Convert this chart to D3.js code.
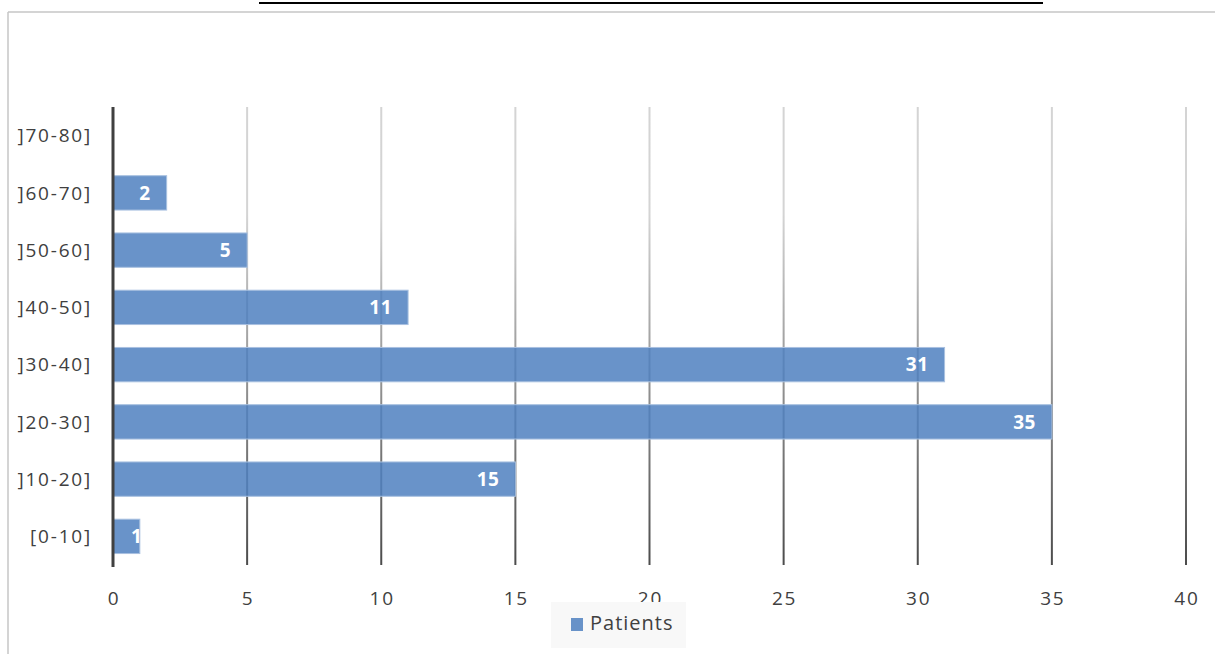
<!DOCTYPE html>
<html>
<head>
<meta charset="utf-8">
<script src="https://cdn.jsdelivr.net/npm/d3@7"></script>
<style>
  body { margin: 0; background: #fff; }
  svg { display: block; font-family: "Open Sans", "Noto Sans", sans-serif; }
</style>
</head>
<body>
<div id="chart"></div>
<script>
const categories = ["[0-10]", "]10-20]", "]20-30]", "]30-40]", "]40-50]", "]50-60]", "]60-70]", "]70-80]"];
const patients = [1, 15, 35, 31, 11, 5, 2, 0];
const xTicks = [0, 5, 10, 15, 20, 25, 30, 35, 40];
const seriesName = "Patients";

const W = 1215, H = 654;
const margin = { top: 107, right: 30, bottom: 89, left: 113 };
const width = 1186 - margin.left;
const height = 565 - margin.top;

const svg = d3.select("#chart").append("svg")
    .attr("width", W)
    .attr("height", H);

// outer frame of the chart area
svg.append("line").attr("x1", 8).attr("x2", W).attr("y1", 12).attr("y2", 12)
    .attr("stroke", "#c6c6c6").attr("stroke-width", 1.5);
svg.append("line").attr("x1", 8).attr("x2", 8).attr("y1", 12).attr("y2", H)
    .attr("stroke", "#c6c6c6").attr("stroke-width", 1.5);

// underline of the (cropped) title
svg.append("line").attr("x1", 259).attr("x2", 1043).attr("y1", 3).attr("y2", 3)
    .attr("stroke", "#000").attr("stroke-width", 2);

const defs = svg.append("defs");
const grad = defs.append("linearGradient")
    .attr("id", "gridGrad")
    .attr("gradientUnits", "userSpaceOnUse")
    .attr("x1", 0).attr("x2", 0)
    .attr("y1", margin.top).attr("y2", margin.top + height);
grad.append("stop").attr("offset", "0%").attr("stop-color", "#d4d4d4");
grad.append("stop").attr("offset", "100%").attr("stop-color", "#222");

const g = svg.append("g").attr("transform", `translate(${margin.left},${margin.top})`);

const x = d3.scaleLinear().domain([0, 40]).range([0, width]);
const y = d3.scaleBand().domain(categories.slice().reverse()).range([0, height])
    .paddingInner(0.4).paddingOuter(0.2);

// vertical gridlines
g.selectAll(".grid")
    .data(xTicks.filter(d => d > 0))
    .enter().append("rect")
    .attr("class", "grid")
    .attr("x", d => x(d) - 1)
    .attr("y", 0)
    .attr("width", 2)
    .attr("height", height)
    .attr("fill", "url(#gridGrad)");

// bars
const data = categories.map((c, i) => ({ cat: c, value: patients[i] }));

defs.selectAll("clipPath")
    .data(data)
    .enter().append("clipPath")
    .attr("id", (d, i) => `clip${i}`)
    .append("rect")
    .attr("x", margin.left)
    .attr("y", d => margin.top + y(d.cat))
    .attr("width", d => x(d.value))
    .attr("height", y.bandwidth());

g.selectAll(".bar")
    .data(data.filter(d => d.value > 0))
    .enter().append("rect")
    .attr("class", "bar")
    .attr("x", 0)
    .attr("y", d => y(d.cat))
    .attr("width", d => x(d.value))
    .attr("height", y.bandwidth())
    .attr("fill", "#4f80bf")
    .attr("fill-opacity", 0.85)
    .attr("stroke", "#a9c1e0")
    .attr("stroke-width", 1);

// value labels (clipped to the bar)
data.forEach((d, i) => {
    if (d.value <= 0) return;
    const narrow = x(d.value) < 40;
    svg.append("text")
        .attr("clip-path", `url(#clip${i})`)
        .attr("x", margin.left + (narrow ? 18 : x(d.value) - 16))
        .attr("y", margin.top + y(d.cat) + y.bandwidth() / 2)
        .attr("dy", "0.36em")
        .attr("text-anchor", narrow ? "start" : "end")
        .attr("fill", "#fff")
        .attr("font-weight", "bold")
        .attr("font-size", 19)
        .attr("letter-spacing", 0.5)
        .text(d.value);
});

// category axis line
g.append("line")
    .attr("x1", 0).attr("x2", 0)
    .attr("y1", 0).attr("y2", height + 2)
    .attr("stroke", "#404040").attr("stroke-width", 3);

// category labels
g.selectAll(".ylab")
    .data(categories)
    .enter().append("text")
    .attr("class", "ylab")
    .attr("x", -21)
    .attr("y", d => y(d) + y.bandwidth() / 2)
    .attr("dy", "0.36em")
    .attr("text-anchor", "end")
    .attr("fill", "#404040")
    .attr("font-size", 19)
    .attr("letter-spacing", 1.8)
    .text(d => d);

// value axis labels
g.selectAll(".xlab")
    .data(xTicks)
    .enter().append("text")
    .attr("class", "xlab")
    .attr("x", d => x(d) + 1)
    .attr("y", height + 33)
    .attr("dy", "0.36em")
    .attr("text-anchor", "middle")
    .attr("fill", "#404040")
    .attr("font-size", 19)
    .attr("letter-spacing", 1.8)
    .text(d => d);

// legend
const legend = svg.append("g").attr("transform", "translate(551,602)");
legend.append("rect")
    .attr("width", 135).attr("height", 46)
    .attr("fill", "#f8f8f8");
legend.append("rect")
    .attr("x", 20).attr("y", 16)
    .attr("width", 12).attr("height", 13)
    .attr("fill", "#4f80bf").attr("fill-opacity", 0.85);
legend.append("text")
    .attr("x", 39).attr("y", 21)
    .attr("dy", "0.36em")
    .attr("fill", "#404040")
    .attr("font-size", 20)
    .attr("letter-spacing", 1)
    .text(seriesName);
</script>
</body>
</html>
